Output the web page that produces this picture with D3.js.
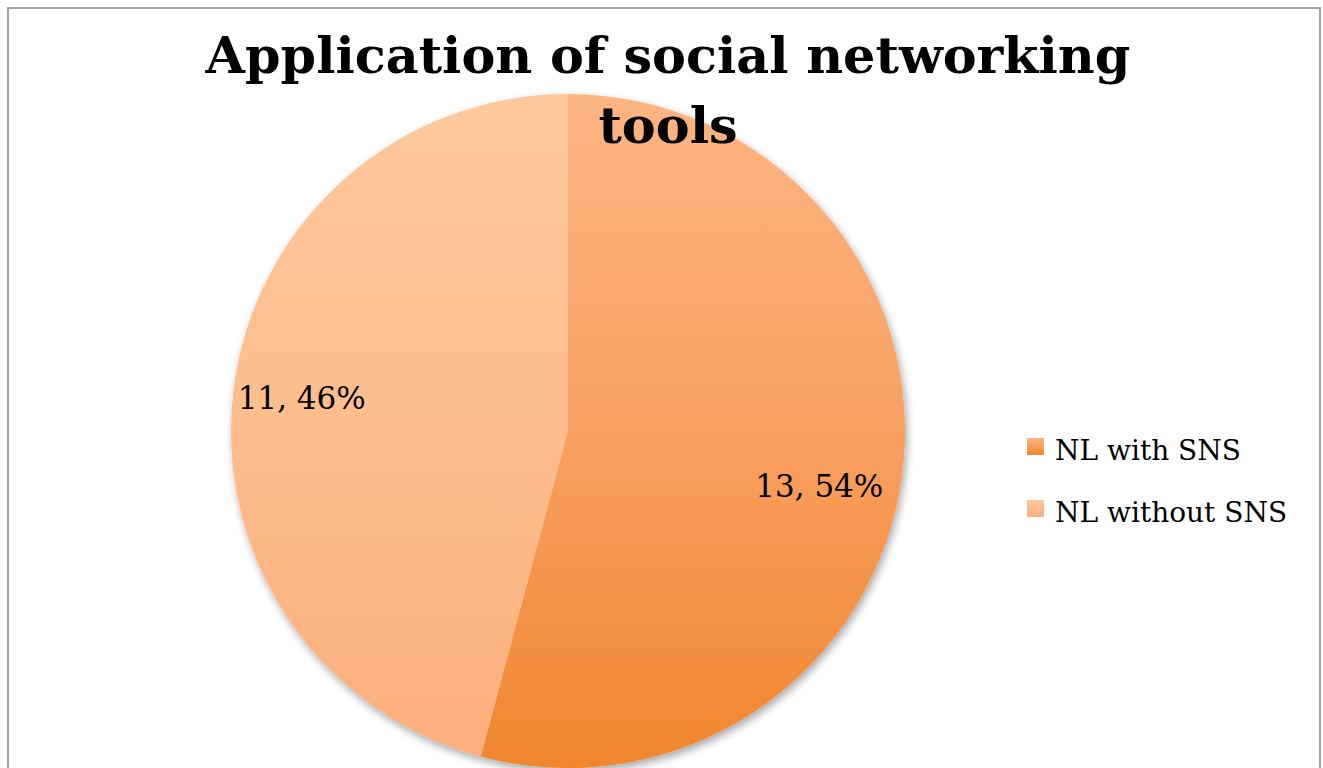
<!DOCTYPE html>
<html>
<head>
<meta charset="utf-8">
<script src="https://cdn.jsdelivr.net/npm/d3@7"></script>
<style>
  body { margin: 0; background: #fff; }
  svg { display: block; }
  text { font-family: "DejaVu Serif", "Liberation Serif", serif; fill: #000; }
</style>
</head>
<body>
<div class="chart"></div>
<script>
'use strict';

var TITLE_LINES = ['Application of social networking', 'tools'];
var CATEGORIES = ['NL with SNS', 'NL without SNS'];
var VALUES = [13, 11];
// gradient stops per slice: top, middle, bottom
var SLICE_COLORS = [
  ['#fdb582', '#f9a062', '#f0862e'],
  ['#fec89d', '#fdbd8d', '#fcae7c']
];

var WIDTH = 1323, HEIGHT = 768;
var CX = 568, CY = 431, R = 337;

var svg = d3.select('.chart').append('svg')
  .attr('width', WIDTH)
  .attr('height', HEIGHT);

var defs = svg.append('defs');

// slight drop shadow like the office chart
var shadow = defs.append('filter')
  .attr('id', 'pieShadow')
  .attr('x', '-10%').attr('y', '-10%')
  .attr('width', '120%').attr('height', '120%');
shadow.append('feGaussianBlur')
  .attr('in', 'SourceAlpha')
  .attr('stdDeviation', 4);
shadow.append('feOffset')
  .attr('dx', 2).attr('dy', 4)
  .attr('result', 'off');
shadow.append('feComponentTransfer').append('feFuncA')
  .attr('type', 'linear').attr('slope', 0.35);
var merge = shadow.append('feMerge');
merge.append('feMergeNode');
merge.append('feMergeNode').attr('in', 'SourceGraphic');

function addGradient(id, stops, userSpace) {
  var g = defs.append('linearGradient')
    .attr('id', id)
    .attr('x1', 0).attr('x2', 0);
  if (userSpace) {
    // pie group is centred, so the gradient runs from -R to R
    g.attr('gradientUnits', 'userSpaceOnUse')
      .attr('y1', -R).attr('y2', R);
  } else {
    g.attr('y1', 0).attr('y2', 1);
  }
  stops.forEach(function(c, i) {
    g.append('stop')
      .attr('offset', (i / (stops.length - 1) * 100) + '%')
      .attr('stop-color', c);
  });
}

SLICE_COLORS.forEach(function(stops, i) {
  addGradient('slice' + i, stops, true);
  addGradient('legend' + i, [stops[0], stops[2]], false);
});

// chart frame
svg.append('rect')
  .attr('x', 8)
  .attr('y', 8)
  .attr('width', 1312)
  .attr('height', 780)
  .style('fill', 'none')
  .style('stroke', '#a6a6a6')
  .style('stroke-width', 2);

var pie = d3.pie().sort(null).value(function(d) { return d; });
var arcs = pie(VALUES);
var total = d3.sum(VALUES);

var arc = d3.arc().innerRadius(0).outerRadius(R);
var labelArc = d3.arc().innerRadius(R * 0.77).outerRadius(R * 0.77);

var g = svg.append('g')
  .attr('transform', 'translate(' + CX + ',' + CY + ')');

g.append('g')
  .attr('filter', 'url(#pieShadow)')
  .selectAll('path')
  .data(arcs)
  .enter()
  .append('path')
  .attr('d', arc)
  .style('fill', function(d, i) { return 'url(#slice' + i + ')'; });

// data labels, nudged a little like excel's best fit
var LABEL_NUDGE = [[-6, 32], [-9, 12]];
g.selectAll('text.slice-label')
  .data(arcs)
  .enter()
  .append('text')
  .attr('class', 'slice-label')
  .attr('x', function(d) { return labelArc.centroid(d)[0]; })
  .attr('y', function(d) { return labelArc.centroid(d)[1]; })
  .attr('dx', function(d, i) { return LABEL_NUDGE[i][0]; })
  .attr('dy', function(d, i) { return LABEL_NUDGE[i][1]; })
  .attr('text-anchor', 'middle')
  .style('font-size', '31px')
  .text(function(d) {
    return d.value + ', ' + Math.round(d.value / total * 100) + '%';
  });

// title
var title = svg.append('text')
  .attr('text-anchor', 'middle')
  .style('font-weight', 'bold')
  .style('font-size', '52px');
TITLE_LINES.forEach(function(line, i) {
  title.append('tspan')
    .attr('x', 668)
    .attr('y', 73 + i * 70)
    .text(line);
});
// fit first line to the reference width
var w = title.select('tspan').node().getComputedTextLength();
title.style('font-size', (52 * 925 / w) + 'px');

// legend
var legend = svg.append('g')
  .attr('transform', 'translate(1027,438)');
var items = legend.selectAll('g')
  .data(CATEGORIES)
  .enter()
  .append('g')
  .attr('transform', function(d, i) { return 'translate(0,' + (i * 62) + ')'; });
items.append('rect')
  .attr('width', 17)
  .attr('height', 17)
  .style('fill', function(d, i) { return 'url(#legend' + i + ')'; });
items.append('text')
  .attr('x', 28)
  .attr('y', 22)
  .style('font-size', '28px')
  .text(function(d) { return d; });
</script>
</body>
</html>
